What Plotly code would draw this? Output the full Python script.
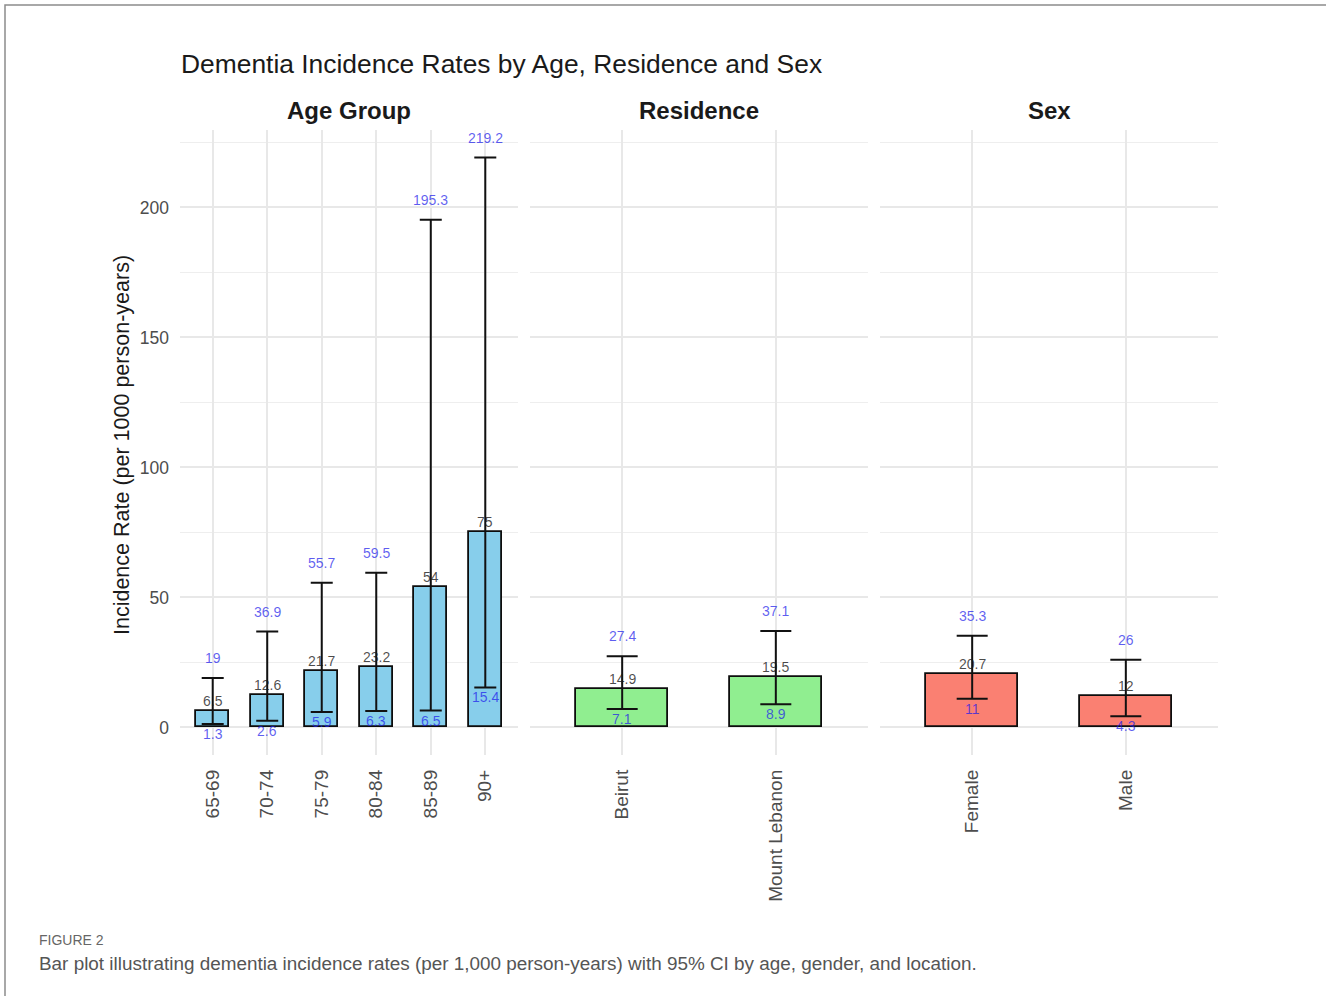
import plotly.graph_objects as go

# ---- data: incidence per 1000 person-years with 95% CI ----
age_groups = ["65-69", "70-74", "75-79", "80-84", "85-89", "90+"]
age_rate = [6.5, 12.6, 21.7, 23.2, 54, 75]
age_lower = [1.3, 2.6, 5.9, 6.3, 6.5, 15.4]
age_upper = [19, 36.9, 55.7, 59.5, 195.3, 219.2]

residence = ["Beirut", "Mount Lebanon"]
res_rate = [14.9, 19.5]
res_lower = [7.1, 8.9]
res_upper = [27.4, 37.1]

sexes = ["Female", "Male"]
sex_rate = [20.7, 12]
sex_lower = [11, 4.3]
sex_upper = [35.3, 26]

y_ticks = [0, 50, 100, 150, 200]

# ---- page geometry (pixels) ----
W, H = 1326, 996


def fx(px):
    return px / W


def fy(py):
    return 1 - py / H


FONT = "Liberation Sans, Arial, Helvetica, sans-serif"
panels = [
    dict(name="Age Group", cats=age_groups, rate=age_rate, lo=age_lower, hi=age_upper,
         fill="#87CEEB", x0=180, x1=518, cap=11),
    dict(name="Residence", cats=residence, rate=res_rate, lo=res_lower, hi=res_upper,
         fill="#90EE90", x0=530, x1=868, cap=15.5),
    dict(name="Sex", cats=sexes, rate=sex_rate, lo=sex_lower, hi=sex_upper,
         fill="#FA8072", x0=880, x1=1218, cap=15.5),
]

panel_top, panel_bottom = 130, 755
y_range = [-10.6, 229.8]

fig = go.Figure()
annotations = []
grid = "#e8e8e8"

for i, p in enumerate(panels, start=1):
    xa = "x" if i == 1 else f"x{i}"
    ya = "y" if i == 1 else f"y{i}"
    plus = [h - r for h, r in zip(p["hi"], p["rate"])]
    minus = [r - l for r, l in zip(p["rate"], p["lo"])]
    fig.add_trace(go.Bar(
        x=p["cats"], y=p["rate"], width=0.6,
        marker=dict(color=p["fill"], line=dict(color="#0d0d0d", width=1.8)),
        error_y=dict(type="data", array=plus, arrayminus=minus, symmetric=False,
                     color="#111111", thickness=2, width=p["cap"]),
        xaxis=xa, yaxis=ya, showlegend=False, hoverinfo="skip",
    ))
    n = len(p["cats"])
    key = "xaxis" if i == 1 else f"xaxis{i}"
    fig.layout[key] = dict(
        domain=[fx(p["x0"]), fx(p["x1"])], anchor=ya,
        type="category", range=[-0.6, n - 0.4],
        showgrid=True, gridcolor=grid, gridwidth=1.5,
        showline=False, zeroline=False, ticks="",
        tickangle=-90, ticklabelstandoff=10,
        tickfont=dict(family=FONT, size=19, color="#4d4d4d"),
    )
    ykey = "yaxis" if i == 1 else f"yaxis{i}"
    fig.layout[ykey] = dict(
        domain=[fy(panel_bottom), fy(panel_top)], anchor=xa,
        range=y_range, tickvals=y_ticks, showticklabels=(i == 1),
        showgrid=True, gridcolor=grid, gridwidth=1.5,
        minor=dict(dtick=25, tick0=0, showgrid=True, gridcolor="#eeeeee", gridwidth=1.2),
        zeroline=False, showline=False, ticks="", ticklabelstandoff=10,
        tickfont=dict(family=FONT, size=17.5, color="#4d4d4d"),
        **({} if i == 1 else dict(matches="y")),
    )
    # facet strip label
    annotations.append(dict(
        text=f"<b>{p['name']}</b>", x=fx((p["x0"] + p["x1"]) / 2), y=fy(110),
        xref="paper", yref="paper", xanchor="center", yanchor="middle",
        showarrow=False, font=dict(family=FONT, size=24, color="#1a1a1a"),
    ))
    # value labels: rate (dark), CI bounds (blue)
    for c, r, lo, hi in zip(p["cats"], p["rate"], p["lo"], p["hi"]):
        for val, shift, col in ((r, 10, "rgba(25,25,25,0.78)"),
                                (hi, 20, "rgba(30,30,235,0.72)"),
                                (lo, -10, "rgba(30,30,235,0.72)")):
            annotations.append(dict(
                text=f"{val:g}", x=c, y=val, xref=xa, yref=ya,
                xanchor="center", yanchor="middle", yshift=shift,
                showarrow=False, font=dict(family=FONT, size=14, color=col),
            ))

# title, y-axis title, caption
annotations += [
    dict(text="Dementia Incidence Rates by Age, Residence and Sex",
         x=fx(179), y=fy(64), xref="paper", yref="paper",
         xanchor="left", yanchor="middle", showarrow=False,
         font=dict(family=FONT, size=26.4, color="#1a1a1a")),
    dict(text="Incidence Rate (per 1000 person-years)",
         x=fx(122), y=fy(445), xref="paper", yref="paper", textangle=-90,
         xanchor="center", yanchor="middle", showarrow=False,
         font=dict(family=FONT, size=21.5, color="#1a1a1a")),
    dict(text="FIGURE 2", x=fx(37), y=fy(940), xref="paper", yref="paper",
         xanchor="left", yanchor="middle", showarrow=False,
         font=dict(family=FONT, size=14, color="#666666")),
    dict(text="Bar plot illustrating dementia incidence rates (per 1,000 person-years) "
              "with 95% CI by age, gender, and location.",
         x=fx(37), y=fy(963), xref="paper", yref="paper",
         xanchor="left", yanchor="middle", showarrow=False,
         font=dict(family=FONT, size=18.9, color="#555555")),
]

fig.update_layout(
    width=W, height=H, autosize=False,
    margin=dict(l=0, r=0, t=0, b=0),
    paper_bgcolor="white", plot_bgcolor="white",
    bargap=0, annotations=annotations,
    shapes=[dict(type="rect", xref="paper", yref="paper",
                 x0=fx(5), x1=1.05, y0=-0.05, y1=fy(5),
                 line=dict(color="#8c8c8c", width=1.5), layer="above")],
)

fig.write_html("out.html")
